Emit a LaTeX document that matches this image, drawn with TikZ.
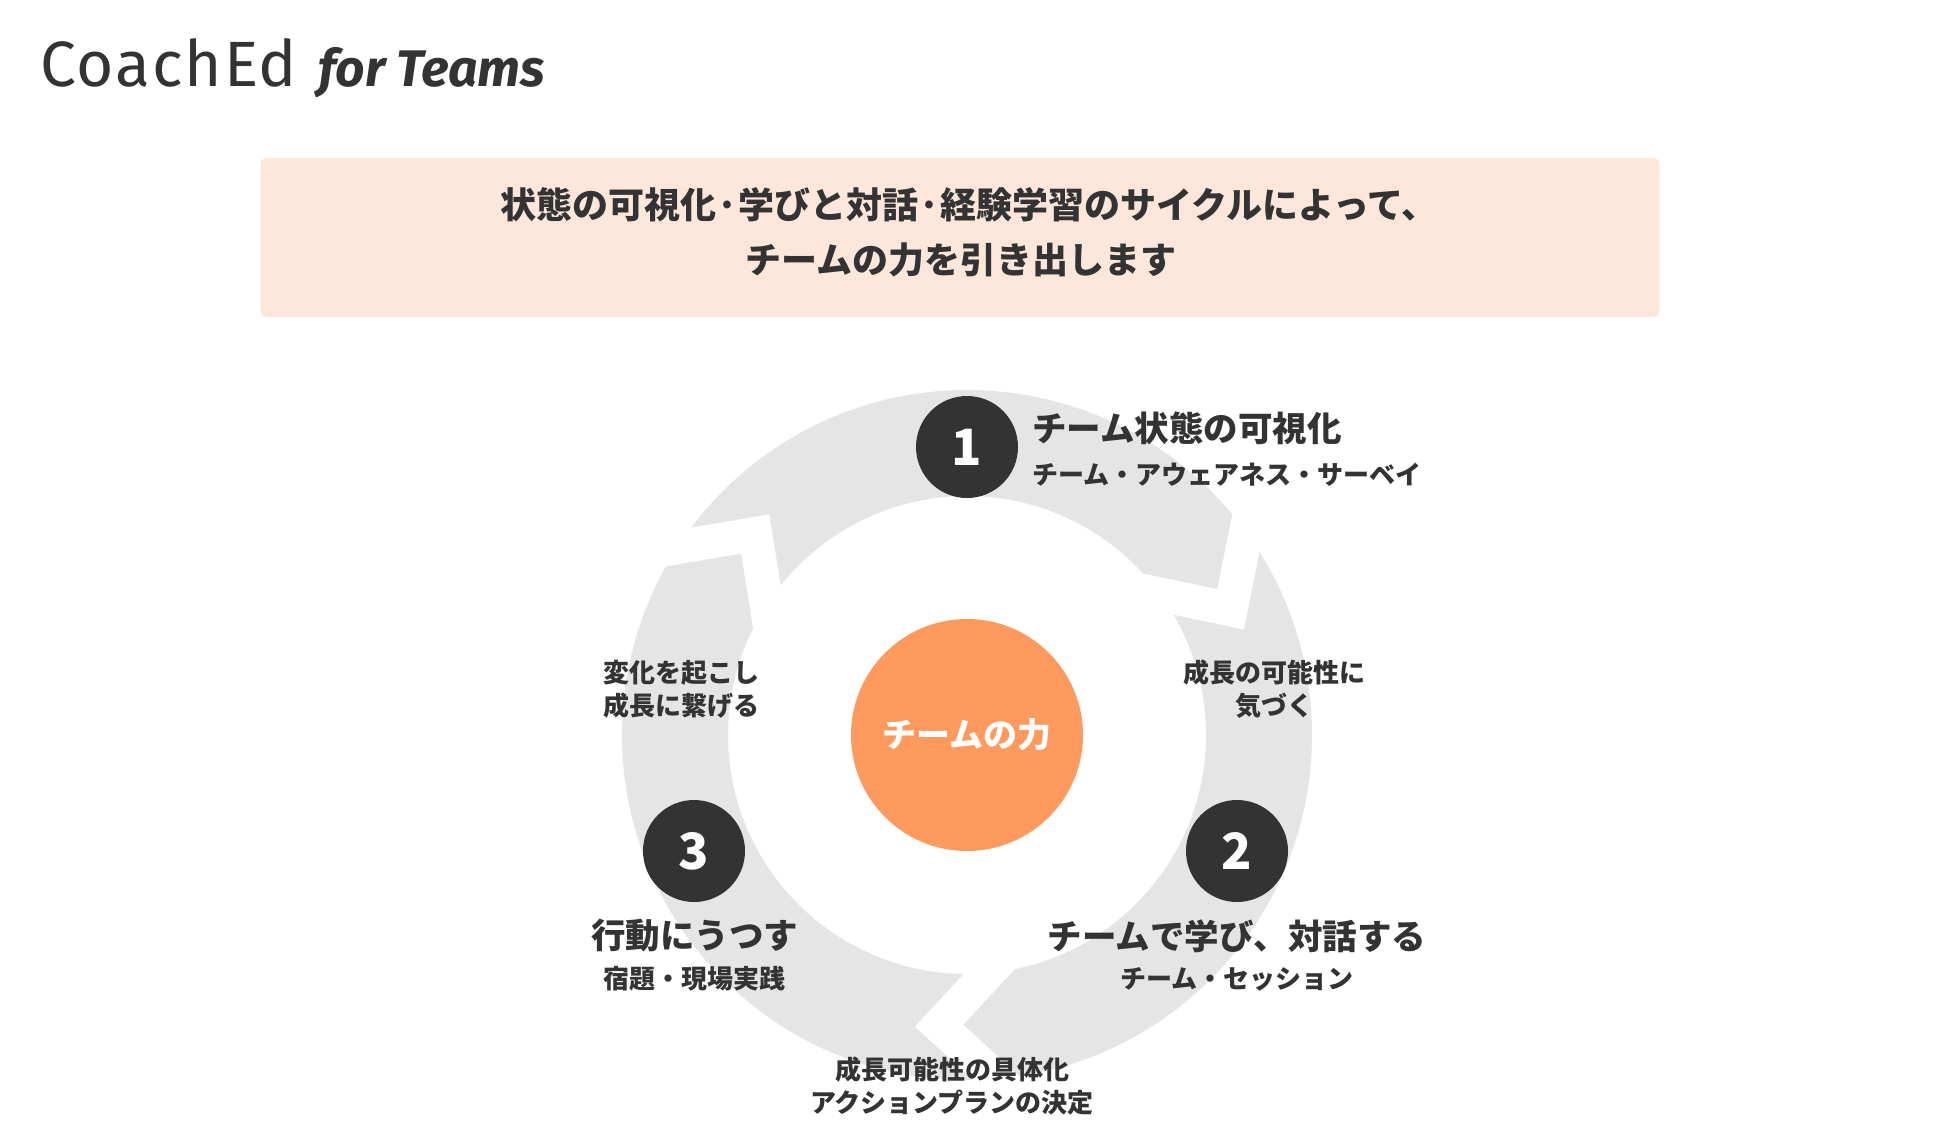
\documentclass[tikz,border=0pt]{standalone}
\usepackage{fontspec}
\newfontfamily\jp{Noto Sans CJK JP}
\newfontfamily\latinfont{Fira Sans}
\usetikzlibrary{calc}
\definecolor{ink}{HTML}{333333}
\definecolor{ringgray}{HTML}{E5E5E5}
\definecolor{peach}{HTML}{FDE7DB}
\definecolor{orangec}{HTML}{FF9A5E}
\tikzset{
  head/.style={font=\jp\bfseries\fontsize{34.5}{40}\selectfont, text=ink, inner sep=0},
  subtxt/.style={font=\jp\bfseries\fontsize{26}{32}\selectfont, text=ink, inner sep=0},
  bantxt/.style={font=\jp\bfseries\fontsize{36}{42}\selectfont, text=ink, inner sep=0},
  numcircle/.style={circle, fill=ink, minimum size=102, inner sep=0, text=white,
    font=\jp\bfseries\fontsize{50}{56}\selectfont},
  gapline/.style={draw=white, line width=34, line join=miter, miter limit=10},
}
\begin{document}
\begin{tikzpicture}[x=1pt,y=1pt]
\useasboundingbox (0,0) rectangle (1936,-1120);
\fill[white] (0,0) rectangle (1936,-1120);

% title
\node[anchor=base west, inner sep=0, text=ink] (title) at (40,-86)
  {\latinfont\addfontfeature{LetterSpace=3}\fontsize{64}{70}\selectfont CoachEd};
\node[anchor=base west, inner sep=0, text=ink] (teams) at (318,-86)
  {\latinfont\bfseries\itshape\fontsize{51.5}{60}\selectfont for Teams};

% banner
\node[fill=peach, rounded corners=6, minimum width=1399, minimum height=159, inner sep=0] (banner) at (960,-237.5) {};
\node[bantxt, anchor=west] (ban1) at (500,-205) {状態の可視化·学びと対話·経験学習のサイクルによって、};
\node[bantxt] (ban2) at (961,-260) {チームの力を引き出します};

% ring
\coordinate (C) at (967,-735);
\fill[ringgray, even odd rule] (C) circle (345) (C) circle (239);

% gaps (arrow cuts)
\foreach \a/\n in {36/ga, -85/gb, 147/gc}{
  \coordinate (\n t) at ($(C)+(\a-10.5:292)$);
  \coordinate (\n o) at ($(C)+(\a:345)$);
  \coordinate (\n i) at ($(C)+(\a:239)$);
  \draw[gapline] ($(\n t)!1.7!(\n o)$) -- (\n t) -- ($(\n t)!1.7!(\n i)$);
}

% core
\node[circle, fill=orangec, minimum size=232, inner sep=0, text=white,
  font=\jp\bfseries\fontsize{34}{40}\selectfont] (core) at (C) {チームの力};

% step circles
\node[numcircle] (n1) at (967,-447) {1};
\node[numcircle] (n2) at (1237,-851) {2};
\node[numcircle] (n3) at (694,-851) {3};

% labels
\node[head, anchor=west] (t1) at (1032,-428) {チーム状態の可視化};
\node[subtxt, anchor=west] (s1) at (1032,-475) {チーム・アウェアネス・サーベイ};
\node[head] (t2) at (1237,-936) {チームで学び、対話する};
\node[subtxt] (s2) at (1237,-979) {チーム・セッション};
\node[head] (t3) at (694.5,-936) {行動にうつす};
\node[subtxt] (s3) at (694.5,-979) {宿題・現場実践};

\node[subtxt] (l1) at (681,-673) {変化を起こし};
\node[subtxt] (l2) at (681,-706) {成長に繋げる};
\node[subtxt] (r1) at (1274,-673) {成長の可能性に};
\node[subtxt] (r2) at (1274,-706) {気づく};
\node[subtxt] (b1) at (952,-1070) {成長可能性の具体化};
\node[subtxt] (b2) at (952,-1103) {アクションプランの決定};
\end{tikzpicture}
\end{document}
